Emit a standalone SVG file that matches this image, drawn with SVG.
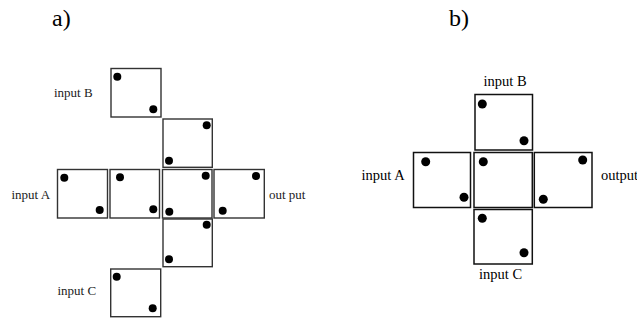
<svg xmlns="http://www.w3.org/2000/svg" width="637" height="320" viewBox="0 0 637 320">
<style>
.bx{fill:#fff;stroke:#333;stroke-width:1.4}
.bx2{fill:#fff;stroke:#111;stroke-width:1.5}
.d{fill:#000}
.t{font-family:"Liberation Serif",serif;font-size:13px;fill:#222}
.t2{font-family:"Liberation Serif",serif;font-size:14.5px;fill:#000}
.h{font-family:"Liberation Serif",serif;font-size:24px;fill:#000}
</style>
<rect width="637" height="320" fill="#fff"/>
<text class="h" x="52" y="26">a)</text>
<text class="h" x="449" y="26">b)</text>
<g id="a-labels">
<text class="t" x="54" y="97">input B</text>
<text class="t" x="11.5" y="199">input A</text>
<text class="t" x="57.5" y="295">input C</text>
<text class="t" x="269" y="199">out put</text>
</g>
<g id="a-B"><rect class="bx" x="111" y="68.5" width="50" height="48.5"/><circle class="d" cx="117.3" cy="76.7" r="4"/><circle class="d" cx="153.3" cy="109.3" r="4"/></g>
<g id="a-U"><rect class="bx" x="163" y="119" width="49.3" height="48.3"/><circle class="d" cx="206.7" cy="125.3" r="4"/><circle class="d" cx="169" cy="160.7" r="4"/></g>
<g id="a-A"><rect class="bx" x="57.5" y="169.5" width="50" height="48.5"/><circle class="d" cx="64.3" cy="177.7" r="4"/><circle class="d" cx="99.7" cy="210" r="4"/></g>
<g id="a-R2"><rect class="bx" x="110" y="169.5" width="49.5" height="48.5"/><circle class="d" cx="120" cy="177.3" r="4"/><circle class="d" cx="153.3" cy="209.3" r="4"/></g>
<g id="a-C"><rect class="bx" x="162.5" y="169.5" width="49.5" height="48.5"/><circle class="d" cx="205.7" cy="175.7" r="4"/><circle class="d" cx="169.3" cy="211.7" r="4"/></g>
<g id="a-O"><rect class="bx" x="214" y="169.5" width="50.3" height="48.5"/><circle class="d" cx="256" cy="176" r="4"/><circle class="d" cx="222.7" cy="210.7" r="4"/></g>
<g id="a-L"><rect class="bx" x="163" y="219" width="49.3" height="47.7"/><circle class="d" cx="206.7" cy="224.7" r="4"/><circle class="d" cx="169" cy="259.3" r="4"/></g>
<g id="a-Cin"><rect class="bx" x="110.7" y="269" width="50" height="47.7"/><circle class="d" cx="116.7" cy="276.7" r="4"/><circle class="d" cx="152.7" cy="308.3" r="4"/></g>

<g id="b-labels">
<text class="t2" x="483.5" y="85.5">input B</text>
<text class="t2" x="361.5" y="180">input A</text>
<text class="t2" x="601" y="180">output</text>
<text class="t2" x="479" y="279">input C</text>
</g>
<g id="b-B"><rect class="bx2" x="475" y="94.5" width="57.5" height="55.5"/><circle class="d" cx="482.3" cy="104" r="4.5"/><circle class="d" cx="524" cy="140.7" r="4.5"/></g>
<g id="b-A"><rect class="bx2" x="413.5" y="152.5" width="57" height="55"/><circle class="d" cx="425.7" cy="161.7" r="4.5"/><circle class="d" cx="464" cy="197.3" r="4.5"/></g>
<g id="b-M"><rect class="bx2" x="474" y="152.5" width="58.3" height="55"/><circle class="d" cx="483.3" cy="161.7" r="4.5"/></g>
<g id="b-O"><rect class="bx2" x="534.3" y="152.5" width="57.7" height="55"/><circle class="d" cx="582.7" cy="160" r="4.5"/><circle class="d" cx="543.3" cy="199.3" r="4.5"/></g>
<g id="b-C"><rect class="bx2" x="474" y="209.5" width="58.3" height="54.5"/><circle class="d" cx="482.3" cy="218.3" r="4.5"/><circle class="d" cx="524" cy="252.7" r="4.5"/></g>
<g id="connectors"></g>
</svg>
